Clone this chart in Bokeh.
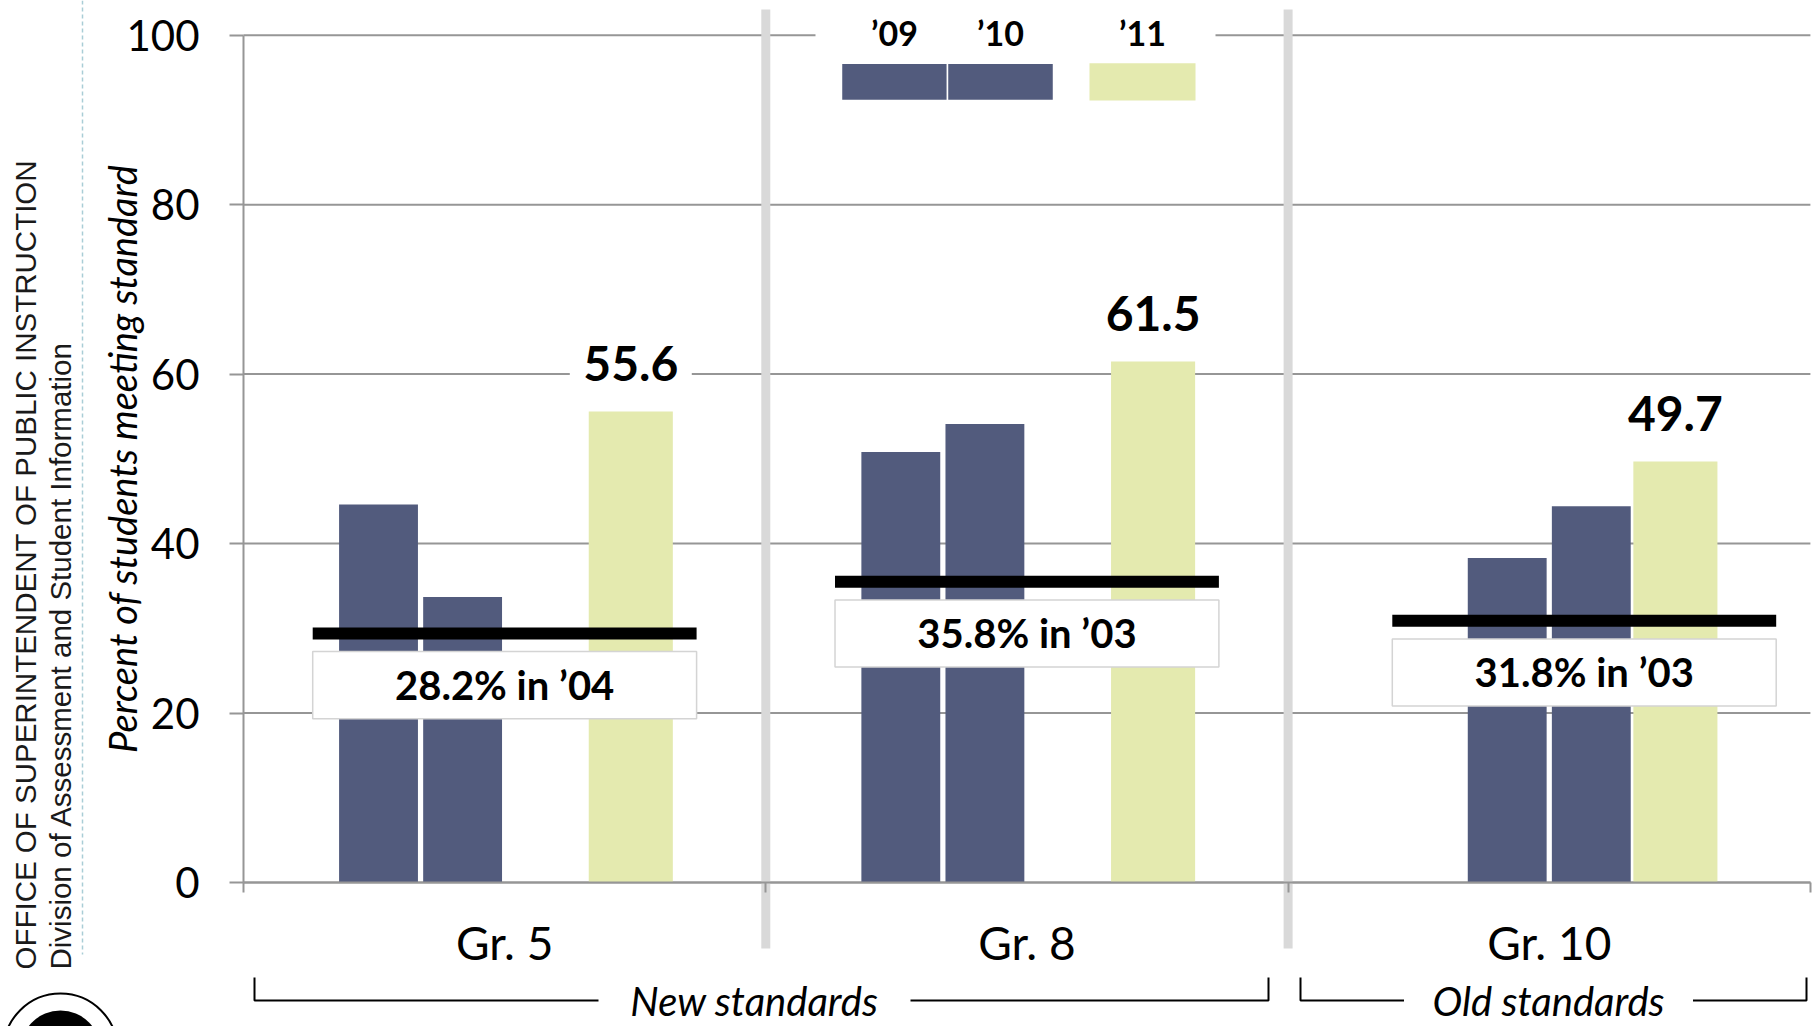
import math
from bokeh.plotting import figure
from bokeh.models import Range1d, LinearAxis, FixedTicker
from bokeh.embed import file_html
from bokeh.resources import INLINE
from bokeh.core.properties import value

# ---------------- data ----------------
grades = ["Gr. 5", "Gr. 8", "Gr. 10"]
years = ["’09", "’10", "’11"]
v09 = [44.6, 50.8, 38.3]
v10 = [33.7, 54.1, 44.4]
v11 = [55.6, 61.5, 49.7]
base_level = [29.4, 35.5, 30.9]
base_text = ["28.2% in ’04", "35.8% in ’03", "31.8% in ’03"]
standards = ["New standards", "Old standards"]
y_ticks = [0, 20, 40, 60, 80, 100]

# ---------------- layout helpers ----------------
W, H = 1813, 1026
PX_X = 522.3      # pixels per category
X0_PX = 243       # pixel of left category edge
PX_Y = 8.473      # pixels per percent
Y0_PX = 882       # pixel of 0 %


def gx(px):
    return 0.5 + (px - X0_PX) / PX_X


def gy(py):
    return (Y0_PX - py) / PX_Y


DARK = "#525b7d"
LIGHT = "#e4eaaf"
GRID = "#969696"
FONT = value("Lato")

p = figure(width=W, height=H, output_backend="svg", toolbar_location=None,
           x_axis_location=None, y_axis_location=None,
           x_range=Range1d(gx(0), gx(W)), y_range=Range1d(gy(H), gy(0)),
           min_border=0, min_border_left=0, min_border_right=0,
           min_border_top=0, min_border_bottom=0)
p.outline_line_color = None
p.xgrid.visible = False
p.ygrid.visible = False
p.background_fill_color = "white"
p.border_fill_color = "white"

centers = [1, 2, 3]

# gridlines
p.segment(x0=[0.5] * len(y_ticks), y0=y_ticks, x1=[3.5] * len(y_ticks), y1=y_ticks,
          line_color=GRID, line_width=2)

# separators between grades
p.segment(x0=[1.5, 2.5], y0=[gy(9)] * 2, x1=[1.5, 2.5], y1=[gy(948)] * 2,
          line_color="#d9d9d9", line_width=9)

# bars
slot = 0.161
slots = [[0, 1, 3], [0, 1, 3], [1, 2, 3]]


def bar_x(k):
    return [c + (s[k] - 1.5) * slot for c, s in zip(centers, slots)]


p.vbar(x=bar_x(0), top=v09, bottom=0, width=0.151, fill_color=DARK, line_color=None)
p.vbar(x=bar_x(1), top=v10, bottom=0, width=0.151, fill_color=DARK, line_color=None)
p.vbar(x=bar_x(2), top=v11, bottom=0, width=0.161, fill_color=LIGHT, line_color=None)

# baseline reference lines with boxes
shift = [0.0, 0.0, 0.067]
half = 0.3675
bl_x0 = [c + s - half for c, s in zip(centers, shift)]
bl_x1 = [c + s + half for c, s in zip(centers, shift)]
bl_xc = [c + s for c, s in zip(centers, shift)]
p.quad(left=bl_x0, right=bl_x1, top=[v - 2.15 for v in base_level],
       bottom=[v - 10.08 for v in base_level],
       fill_color="white", line_color="#d4d4d4", line_width=1.5)
p.segment(x0=bl_x0, y0=base_level, x1=bl_x1, y1=base_level,
          line_color="black", line_width=12)
p.text(x=bl_xc, y=[v - 6.1 for v in base_level], text=base_text,
       text_font=FONT, text_font_style="bold", text_font_size="40px",
       text_align="center", text_baseline="middle", text_color="black")

# value labels on '11 bars
lab_y = [v + 5.7 for v in v11]
p.rect(x=bar_x(2), y=lab_y, width=122, height=44, width_units="screen",
       height_units="screen", fill_color="white", line_color=None)
p.text(x=bar_x(2), y=lab_y, text=[f"{v:.1f}" for v in v11],
       text_font=FONT, text_font_style="bold", text_font_size="48px",
       text_align="center", text_baseline="middle", text_color="black")

# legend (drawn in the Gr. 8 panel, top)
p.quad(left=[gx(815)], right=[gx(1215)], top=[101.8], bottom=[98.8],
       fill_color="white", line_color=None)
leg_x = [gx(894), gx(1000), gx(1142)]
leg_w = 0.203
p.quad(left=[leg_x[0] - leg_w / 2, leg_x[1] - leg_w / 2],
       right=[leg_x[0] + leg_w / 2, leg_x[1] + leg_w / 2],
       top=[gy(62.7)] * 2, bottom=[gy(100)] * 2,
       fill_color=DARK, line_color="white", line_width=1.5)
p.quad(left=[leg_x[2] - leg_w / 2], right=[leg_x[2] + leg_w / 2],
       top=[gy(62.7)], bottom=[gy(100)], fill_color=LIGHT, line_color=None)
p.text(x=leg_x, y=[gy(31.5)] * 3, text=years, text_font=FONT,
       text_font_style="bold", text_font_size="34px", text_align="center",
       text_baseline="middle", text_color="black")

# brackets for standards
br_y = gy(1000)
br_up = gy(977)
br_x = [(gx(254), gx(1268)), (gx(1300), gx(1806))]
p.multi_line(xs=[[a, a, b, b] for a, b in br_x],
             ys=[[br_up, br_y, br_y, br_up] for _ in br_x],
             line_color="black", line_width=2)
br_c = [gx(754), gx(1548)]
p.rect(x=br_c, y=[br_y] * 2, width=[312, 289], height=40, width_units="screen",
       height_units="screen", fill_color="white", line_color=None)
p.text(x=br_c, y=[br_y] * 2, text=standards, text_font=FONT,
       text_font_style="italic", text_font_size="40px", text_align="center",
       text_baseline="middle", text_color="black")

# left side texts
p.segment(x0=[gx(82)], y0=[gy(0)], x1=[gx(82)], y1=[gy(954)],
          line_color="#a9cdd6", line_width=1.5, line_dash="4 3")
p.text(x=[gx(25.4), gx(60)], y=[gy(969)] * 2,
       text=["OFFICE OF SUPERINTENDENT OF PUBLIC INSTRUCTION",
             "Division of Assessment and Student Information"],
       angle=math.pi / 2, text_font=value("Liberation Sans"), text_font_size="29.5px",
       text_align="left", text_baseline="middle", text_color="#1a1a1a")
p.text(x=[gx(121)], y=[50], text=["Percent of students meeting standard"],
       angle=math.pi / 2, text_font=FONT, text_font_style="italic",
       text_font_size="38px", text_align="center", text_baseline="middle",
       text_color="black")

# seal (partially visible at bottom left)
p.scatter(x=[gx(60)], y=[gy(1050)], marker="circle", size=114,
          fill_color="white", line_color="black", line_width=2)
p.scatter(x=[gx(60)], y=[gy(1050)], marker="circle", size=80,
          fill_color="black", line_color=None)

# axes
yax = LinearAxis(fixed_location=0.5, bounds=(0, 100),
                 ticker=FixedTicker(ticks=y_ticks),
                 axis_line_color=GRID, axis_line_width=2,
                 major_tick_out=14, major_tick_in=0,
                 major_tick_line_color=GRID, major_tick_line_width=2,
                 minor_tick_line_color=None,
                 major_label_text_font="Lato", major_label_text_font_size="42px",
                 major_label_text_color="black", major_label_standoff=30)
p.add_layout(yax, "left")

xax = LinearAxis(fixed_location=0, bounds=(0.5, 3.5),
                 ticker=FixedTicker(ticks=centers, minor_ticks=[0.5, 1.5, 2.5, 3.5]),
                 major_label_overrides={c: g for c, g in zip(centers, grades)},
                 axis_line_color=GRID, axis_line_width=2,
                 major_tick_line_color=None, major_tick_out=0, major_tick_in=0,
                 minor_tick_out=10, minor_tick_in=0, minor_tick_line_color=GRID,
                 minor_tick_line_width=2,
                 major_label_text_font="Lato", major_label_text_font_size="46px",
                 major_label_text_color="black", major_label_standoff=22)
p.add_layout(xax, "below")

open("out.html", "w").write(file_html(p, INLINE))
